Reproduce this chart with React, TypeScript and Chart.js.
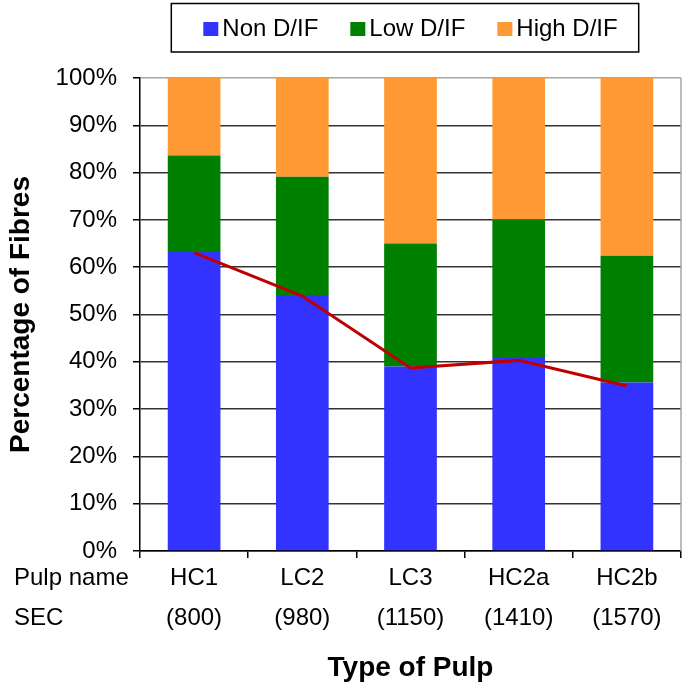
import { useEffect, useRef } from 'react';
import { Chart, registerables } from 'chart.js';

Chart.register(...registerables);

const FONT = "'Liberation Sans', Arial, sans-serif";

// Pulps, their specific energy consumption, and fibre class shares (%)
const pulpNames = ['HC1', 'LC2', 'LC3', 'HC2a', 'HC2b'];
const secValues = ['(800)', '(980)', '(1150)', '(1410)', '(1570)'];
const nonDIF = [63.2, 54.1, 39.0, 41.0, 35.6];
const lowDIF = [20.4, 25.0, 26.0, 29.1, 26.8];
const highDIF = [16.4, 20.9, 35.0, 29.9, 37.6];
const nonDIFTrend = [63.1, 53.9, 38.7, 40.3, 34.9];

const rowHeaders = ['Pulp name', 'SEC'];
const yMin = 0;
const yMax = 100;
const yStep = 10;

const TICK_LEN = 7;
const LINE_H = 40;

// Legend drawn inside a framed box, centred over the plot area
const boxedLegend = {
  id: 'boxedLegend',
  afterDraw(chart: any) {
    const { ctx, chartArea } = chart;
    const items = chart.data.datasets.filter((d: any) => d.type !== 'line');
    ctx.save();
    ctx.font = `24px ${FONT}`;
    const sq = 15;
    const gap = 4;
    const itemGap = 32;
    const widths = items.map((d: any) => sq + gap + ctx.measureText(d.label).width);
    const total = widths.reduce((a: number, b: number) => a + b, 0) + itemGap * (items.length - 1);
    let x = (chartArea.left + chartArea.right) / 2 - total / 2;
    ctx.strokeStyle = '#000';
    ctx.lineWidth = 1.5;
    ctx.strokeRect(x - 32, 3.5, total + 53, 48.5);
    ctx.textAlign = 'left';
    ctx.textBaseline = 'middle';
    items.forEach((d: any, i: number) => {
      ctx.fillStyle = d.backgroundColor;
      ctx.fillRect(x, 22, sq, 14);
      ctx.fillStyle = '#000';
      ctx.fillText(d.label, x + sq + gap, 29);
      x += widths[i] + itemGap;
    });
    ctx.restore();
  },
};

// Row headers to the left of the two-line category labels, plus the right frame edge
const axisExtras = {
  id: 'axisExtras',
  afterDraw(chart: any) {
    const { ctx, chartArea } = chart;
    const xs = chart.scales.x;
    ctx.save();
    ctx.strokeStyle = '#a6a6a6';
    ctx.lineWidth = 1.5;
    ctx.beginPath();
    ctx.moveTo(chartArea.right, chartArea.top);
    ctx.lineTo(chartArea.right, chartArea.bottom);
    ctx.stroke();
    ctx.font = `24px ${FONT}`;
    ctx.fillStyle = '#000';
    ctx.textAlign = 'left';
    ctx.textBaseline = 'middle';
    const y0 = xs.top + TICK_LEN + LINE_H / 2;
    rowHeaders.forEach((t, i) => ctx.fillText(t, 14, y0 + i * LINE_H));
    ctx.restore();
  },
};

export default function App() {
  const ref = useRef<HTMLCanvasElement | null>(null);

  useEffect(() => {
    if (!ref.current) return;
    const labels = pulpNames.map((n, i) => [n, secValues[i]]);
    const barCommon = {
      type: 'bar' as const,
      stack: 'fibres',
      order: 1,
      barPercentage: 0.487,
      categoryPercentage: 1.0,
      borderWidth: 0,
    };
    const chart = new Chart(ref.current, {
      type: 'bar',
      data: {
        labels,
        datasets: [
          { ...barCommon, label: 'Non D/IF', data: nonDIF, backgroundColor: '#3333FF' },
          { ...barCommon, label: 'Low D/IF', data: lowDIF, backgroundColor: '#008000' },
          { ...barCommon, label: 'High D/IF', data: highDIF, backgroundColor: '#FF9933' },
          {
            type: 'line' as const,
            label: 'Non D/IF trend',
            data: nonDIFTrend,
            stack: 'trend',
            order: 0,
            borderColor: '#C00000',
            borderWidth: 3,
            pointRadius: 0,
            tension: 0,
            fill: false,
          } as any,
        ],
      },
      options: {
        responsive: true,
        maintainAspectRatio: false,
        animation: false,
        layout: { padding: { top: 78, right: 1, bottom: 0, left: 0 } },
        plugins: {
          legend: { display: false },
          title: { display: false },
          tooltip: { enabled: false },
        },
        scales: {
          x: {
            stacked: true,
            afterFit: (s: any) => {
              s.height = 132;
            },
            border: { display: true, color: '#000', width: 1.5 },
            grid: {
              offset: true,
              drawOnChartArea: false,
              drawTicks: true,
              tickLength: TICK_LEN,
              color: '#000',
              tickColor: '#000',
              lineWidth: 1.5,
            },
            ticks: {
              color: '#000',
              padding: 0,
              maxRotation: 0,
              autoSkip: false,
              font: { family: FONT, size: 24, lineHeight: `${LINE_H}px` },
            },
            title: {
              display: true,
              text: 'Type of Pulp',
              color: '#000',
              font: { family: FONT, size: 28, weight: 'bold', lineHeight: 1 },
              padding: { top: 0, bottom: 1 },
            },
          },
          y: {
            stacked: true,
            min: yMin,
            max: yMax,
            afterFit: (s: any) => {
              s.width = 140;
            },
            border: { display: true, color: '#000', width: 1.5 },
            grid: {
              drawTicks: true,
              tickLength: TICK_LEN,
              tickColor: '#000',
              lineWidth: 1.5,
              color: (c: any) => (c.tick && c.tick.value === yMax ? '#a6a6a6' : '#333'),
            },
            ticks: {
              stepSize: yStep,
              color: '#000',
              padding: 16,
              font: { family: FONT, size: 24 },
              callback: (v: any) => `${v}%`,
            },
            title: {
              display: true,
              text: 'Percentage of Fibres',
              color: '#000',
              font: { family: FONT, size: 28, weight: 'bold', lineHeight: 1 },
              padding: { top: 7, bottom: 0 },
            },
          },
        },
      },
      plugins: [boxedLegend, axisExtras],
    });
    return () => chart.destroy();
  }, []);

  return (
    <div style={{ position: 'absolute', left: 0, top: 0, width: 682, height: 683 }}>
      <canvas ref={ref} />
    </div>
  );
}
